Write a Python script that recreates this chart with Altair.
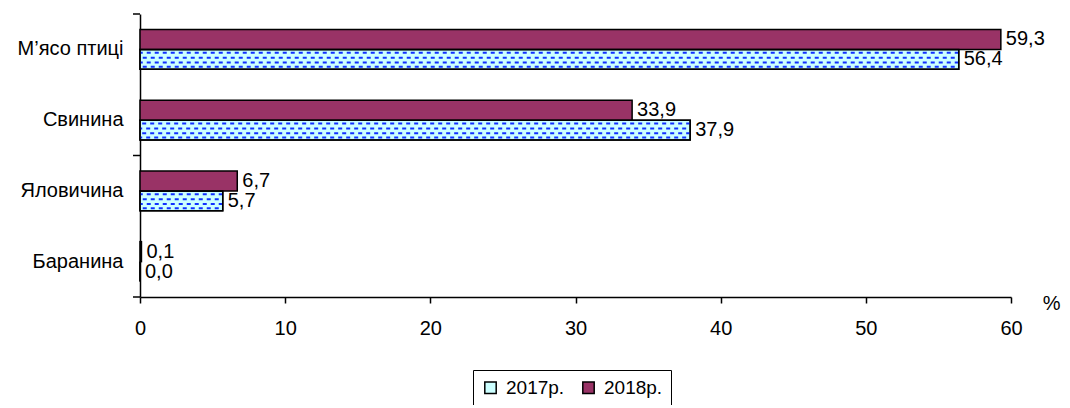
import altair as alt
import pandas as pd

categories = ["М’ясо птиці", "Свинина", "Яловичина", "Баранина"]
series = ["2017р.", "2018р."]
values_2017 = [56.4, 37.9, 5.7, 0.0]
values_2018 = [59.3, 33.9, 6.7, 0.1]
x_ticks = [0, 10, 20, 30, 40, 50, 60]
tick_cats_top = ["М’ясо птиці", "Яловичина"]
tick_cats_bottom = ["Баранина"]

rows = []
for c, a, b in zip(categories, values_2017, values_2018):
    rows.append({"cat": c, "series": series[0], "value": a})
    rows.append({"cat": c, "series": series[1], "value": b})
df = pd.DataFrame(rows)

FONT = "Liberation Sans"
FS = 20

y_axis = alt.Axis(title=None, ticks=False, labelFontSize=FS, labelFont=FONT,
                  labelColor="black", labelPadding=17, domainColor="black",
                  domainWidth=1.5)
y_scale = alt.Scale(paddingInner=0, paddingOuter=0)


def y_enc(**kw):
    return alt.Y("cat:N", sort=categories, scale=y_scale, axis=y_axis, **kw)


yoff = alt.YOffset("series:N", sort=["2018р.", "2017р."],
                   scale=alt.Scale(paddingOuter=0.77, paddingInner=0))

x_enc = alt.X("value:Q", scale=alt.Scale(domain=[0, 60], nice=False),
              axis=alt.Axis(values=x_ticks, title="%", grid=False, tickSize=6,
                            tickColor="black", tickWidth=1.5, domainColor="black",
                            domainWidth=1.5, labelFontSize=FS, labelFont=FONT,
                            labelColor="black", labelPadding=15, labelFlush=False,
                            titleFontSize=FS, titleFont=FONT, titleFontWeight="normal",
                            titleColor="black", titleX=920, titleY=6,
                            titleAlign="right", titleBaseline="middle"))

base = alt.Chart(df).transform_calculate(
    label="replace(format(datum.value, '.1f'), '.', ',')"
)

bars = base.mark_bar(stroke="black", strokeWidth=1.5).encode(
    y=y_enc(), yOffset=yoff, x=x_enc,
    color=alt.Color("series:N", sort=series,
                    scale=alt.Scale(domain=series, range=["#CCFFFF", "#993366"]),
                    legend=alt.Legend(title=None, orient="none", legendX=333, legendY=356,
                                      direction="horizontal", strokeColor="black",
                                      fillColor="white", padding=8, symbolType="square",
                                      symbolSize=130, symbolStrokeColor="black",
                                      symbolStrokeWidth=1.5, labelFontSize=19,
                                      labelFont=FONT, labelColor="black",
                                      columnPadding=14, labelOffset=6)),
)

b2017 = base.transform_filter(alt.datum.series == "2017р.")
dash_layers = []
for bp, off in [(0.547, 0), (0.617, 4), (0.684, 0), (0.745, 4)]:
    dash_layers.append(
        b2017.mark_rule(strokeDash=[4, 4], strokeDashOffset=off,
                        strokeWidth=2, color="#1030FF").encode(
            y=y_enc(bandPosition=bp), x=x_enc, x2=alt.value(0))
    )

outline = b2017.mark_bar(fillOpacity=0, stroke="black", strokeWidth=1.5).encode(
    y=y_enc(), yOffset=yoff, x=x_enc)

labels = base.mark_text(align="left", baseline="middle", dx=5, fontSize=FS,
                        font=FONT, color="black").encode(
    y=y_enc(), yOffset=yoff, x=x_enc, text="label:N")

tick_df_top = pd.DataFrame({"cat": tick_cats_top})
tick_df_bottom = pd.DataFrame({"cat": tick_cats_bottom})
ticks_top = alt.Chart(tick_df_top).mark_rule(color="black", strokeWidth=1.5).encode(
    y=y_enc(bandPosition=0), x=alt.value(-7), x2=alt.value(0))
ticks_bottom = alt.Chart(tick_df_bottom).mark_rule(color="black", strokeWidth=1.5).encode(
    y=y_enc(bandPosition=1), x=alt.value(-7), x2=alt.value(0))

chart = alt.layer(bars, *dash_layers, outline, labels, ticks_top, ticks_bottom).properties(
    width=871, height=283,
    autosize=alt.AutoSizeParams(type="none"),
    padding={"left": 132, "top": 6, "right": 51, "bottom": 108},
).configure_view(stroke=None)

chart.save("out.html", embed_options={"renderer": "svg", "actions": False})
